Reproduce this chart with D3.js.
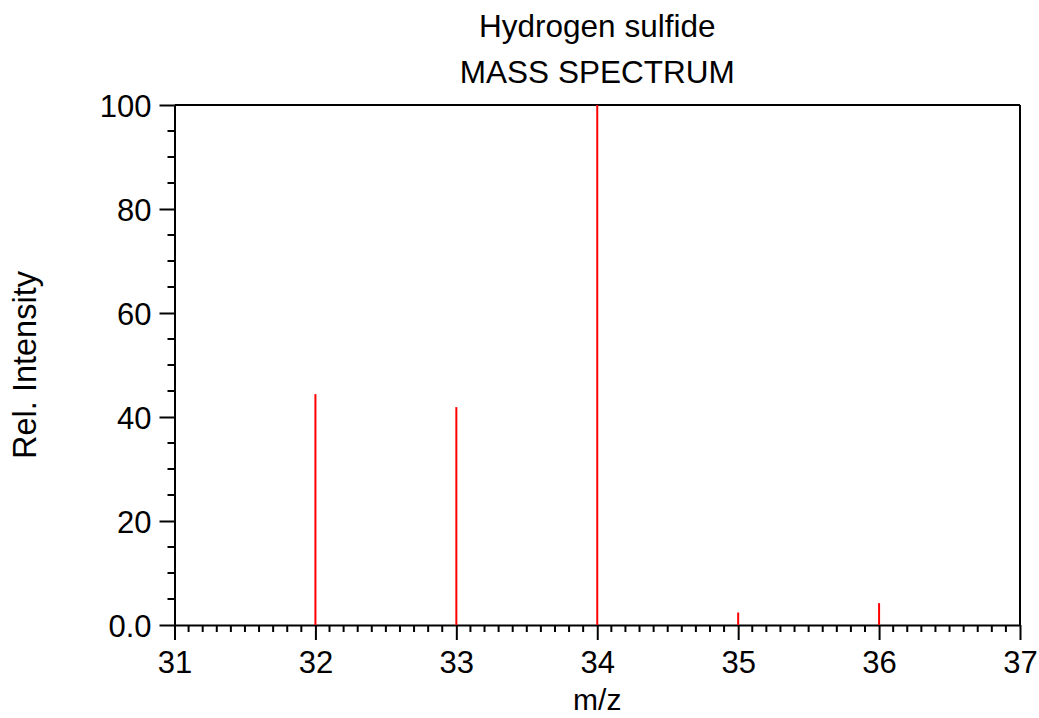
<!DOCTYPE html>
<html>
<head>
<meta charset="utf-8">
<script src="https://cdn.jsdelivr.net/npm/d3@7/dist/d3.min.js"></script>
<style>
  html, body { margin: 0; padding: 0; background: #fff; }
  svg { display: block; }
  text { font-family: "Liberation Sans", Arial, sans-serif; fill: #000; }
</style>
</head>
<body>
<svg id="chart" width="1039" height="718"></svg>
<script>
// Mass spectrum of hydrogen sulfide: m/z and relative intensity
const mzValues = [32, 33, 34, 35, 36];
const intensities = [44.4, 41.9, 100, 2.4, 4.2];
const xTickValues = [31, 32, 33, 34, 35, 36, 37];
const yTickValues = [0, 20, 40, 60, 80, 100];
const yTickLabels = ["0.0", "20", "40", "60", "80", "100"];
const titleLines = ["Hydrogen sulfide", "MASS SPECTRUM"];

const svg = d3.select("#chart");
const plotLeft = 174.5, plotRight = 1020, plotTop = 105, plotBottom = 625;

const x = d3.scaleLinear().domain([31, 37]).range([plotLeft, plotRight]);
const y = d3.scaleLinear().domain([0, 100]).range([plotBottom, plotTop]);

const axisColor = "#000";

// frame: top and right borders
svg.append("line").attr("x1", plotLeft).attr("x2", plotRight).attr("y1", plotTop).attr("y2", plotTop)
  .attr("stroke", axisColor).attr("stroke-width", 2);
svg.append("line").attr("x1", plotRight).attr("x2", plotRight).attr("y1", plotTop).attr("y2", plotBottom)
  .attr("stroke", axisColor).attr("stroke-width", 2);

// x axis: major ticks every 1, minor every 0.1, pointing down
const xAxis = d3.axisBottom(x).tickValues(xTickValues).tickSize(15).tickSizeOuter(0).tickFormat(d3.format("d"));
const gx = svg.append("g").attr("transform", `translate(0,${plotBottom})`).call(xAxis);
const xMinor = d3.range(310, 371).map(d => d / 10).filter(d => Math.abs(d - Math.round(d)) > 1e-6);
gx.selectAll(".minor").data(xMinor).enter().append("line")
  .attr("class", "minor")
  .attr("x1", d => x(d)).attr("x2", d => x(d)).attr("y1", 0).attr("y2", 7)
  .attr("stroke", axisColor).attr("stroke-width", 2);

// y axis: major ticks every 20, minor every 5, pointing left
const yAxis = d3.axisLeft(y).tickValues(yTickValues).tickSize(15).tickSizeOuter(0)
  .tickFormat((d, i) => yTickLabels[i]);
const gy = svg.append("g").attr("transform", `translate(${plotLeft},0)`).call(yAxis);
const yMinor = d3.range(0, 101, 5).filter(d => d % 20 !== 0);
gy.selectAll(".minor").data(yMinor).enter().append("line")
  .attr("class", "minor")
  .attr("x1", 0).attr("x2", -7).attr("y1", d => y(d)).attr("y2", d => y(d))
  .attr("stroke", axisColor).attr("stroke-width", 2);

[gx, gy].forEach(g => {
  g.select(".domain").attr("stroke", axisColor).attr("stroke-width", 2);
  g.selectAll(".tick line").attr("stroke", axisColor).attr("stroke-width", 2);
  g.selectAll(".tick text").attr("font-size", 31).attr("font-family", "Liberation Sans, Arial, sans-serif").attr("fill", "#000");
});
gx.selectAll(".tick text").attr("dy", null).attr("y", 48);
gy.selectAll(".tick text").attr("x", -23).attr("dy", "0.36em");

// spectral peaks as vertical sticks
svg.append("g").selectAll("line").data(mzValues).enter().append("line")
  .attr("x1", d => x(d)).attr("x2", d => x(d))
  .attr("y1", y(0)).attr("y2", (d, i) => y(intensities[i]))
  .attr("stroke", "#ff0000").attr("stroke-width", 2);

// titles
svg.append("g").selectAll("text").data(titleLines).enter().append("text")
  .attr("x", (plotLeft + plotRight) / 2).attr("y", (d, i) => 37 + i * 46)
  .attr("text-anchor", "middle").attr("font-size", 31.5).text(d => d);

// axis titles
svg.append("text").attr("x", (plotLeft + plotRight) / 2).attr("y", 710)
  .attr("text-anchor", "middle").attr("font-size", 30).text("m/z");
svg.append("text").attr("transform", `translate(36,${(plotTop + plotBottom) / 2}) rotate(-90)`)
  .attr("text-anchor", "middle").attr("font-size", 32.5).text("Rel. Intensity");
</script>
</body>
</html>
